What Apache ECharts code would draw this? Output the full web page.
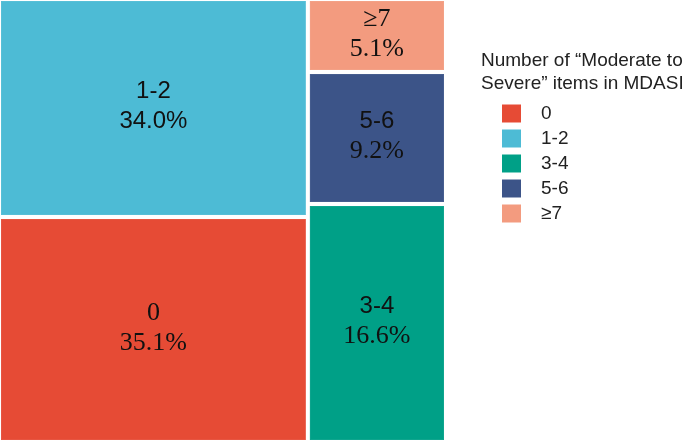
<!DOCTYPE html>
<html>
<head>
<meta charset="utf-8">
<script src="https://cdn.jsdelivr.net/npm/echarts@6/dist/echarts.min.js"></script>
<style>
html,body{margin:0;padding:0;background:#fff;}
#chart{width:685px;height:442px;}
</style>
</head>
<body>
<div id="chart"></div>
<script>
// ---- data ----
const categories = ['0', '1-2', '3-4', '5-6', '≥7'];
const percents = [35.1, 34.0, 16.6, 9.2, 5.1];
const leftColumn = ['1-2', '0'];
const rightColumn = ['≥7', '5-6', '3-4'];
const legendTitle = 'Number of \u201cModerate to\nSevere\u201d items in MDASI';

// ---- styles ----
const palette = ['#E64B35', '#4DBBD5', '#00A087', '#3C5488', '#F39B7F'];
const SANS = 'Liberation Sans, Arial, sans-serif';
const SERIF = 'Liberation Serif, Times New Roman, serif';
const nameFont = {'0': SERIF, '1-2': SANS, '3-4': SANS, '5-6': SANS, '≥7': SERIF};
const valueFont = {'0': SERIF, '1-2': SANS, '3-4': SERIF, '5-6': SERIF, '≥7': SERIF};
const LINE_H = 30;

function fontSizeFor(f) { return f === SERIF ? 26 : 24; }

function leaf(name, padMap) {
  const i = categories.indexOf(name);
  const label = {
    rich: {
      n: { fontFamily: nameFont[name], fontSize: fontSizeFor(nameFont[name]), color: '#111', lineHeight: LINE_H, align: 'center' },
      v: { fontFamily: valueFont[name], fontSize: fontSizeFor(valueFont[name]), color: '#111', lineHeight: LINE_H, align: 'center' }
    }
  };
  if (padMap && padMap[name]) label.padding = padMap[name];
  return {
    name: name,
    value: percents[i],
    itemStyle: { color: palette[i], borderColor: echarts.color.lift(palette[i], 0.06), borderWidth: 1 },
    label: label
  };
}

function group(name, members, padMap) {
  const children = members.map(m => leaf(m, padMap));
  return { name: name, value: children.reduce((s, c) => s + c.value, 0), children: children };
}

function buildData(padMap) {
  return [group('left', leftColumn, padMap), group('right', rightColumn, padMap)];
}

const chart = echarts.init(document.getElementById('chart'));
chart.setOption({
  animation: false,
  title: {
    text: legendTitle,
    left: 481, top: 49, padding: 0,
    textStyle: { fontFamily: SANS, fontSize: 19, fontWeight: 'normal', color: '#222', lineHeight: 23 }
  },
  legend: {
    orient: 'vertical',
    left: 502, top: 104, padding: 0,
    itemWidth: 19, itemHeight: 18, itemGap: 6,
    icon: 'rect',
    data: categories,
    textStyle: { fontFamily: SANS, fontSize: 19, color: '#222', lineHeight: 18, padding: [0, 0, 0, 15] }
  },
  series: [
    {
      type: 'treemap',
      left: 1, top: 1, width: 443, height: 439,
      roam: false,
      nodeClick: false,
      sort: false,
      squareRatio: 1,
      breadcrumb: { show: false },
      label: {
        show: true,
        position: ['50%', '50%'],
        align: 'center',
        verticalAlign: 'middle',
        formatter: p => '{n|' + p.name + '}\n{v|' + p.value.toFixed(1) + '%}'
      },
      upperLabel: { show: false },
      levels: [
        { itemStyle: { gapWidth: 4, borderWidth: 0 } },
        { itemStyle: { gapWidth: 4, borderWidth: 0 } },
        {}
      ],
      data: buildData(null)
    },
    {
      type: 'pie',
      silent: true,
      center: [-200, -200],
      radius: 1,
      label: { show: false },
      labelLine: { show: false },
      data: categories.map((c, i) => ({ name: c, value: percents[i], itemStyle: { color: palette[i] } }))
    }
  ]
});

// Treemap labels are laid out in a box as tall as the cell; centre them
// vertically using the cell heights computed by ECharts' own layout.
(function centreLabels() {
  const seriesModel = chart.getModel().getSeriesByIndex(0);
  const data = seriesModel.getData();
  const padMap = {};
  const textH = LINE_H * 2 + 2;
  for (let i = 0; i < data.count(); i++) {
    const name = data.getName(i);
    const layout = data.getItemLayout(i);
    if (!layout || categories.indexOf(name) < 0) continue;
    const h = layout.height - 2;
    const top = Math.max(Math.floor((h - textH) / 2), 0);
    const bottom = Math.max(Math.floor(h - textH - top) - 1, 0);
    padMap[name] = [top, 0, bottom, 0];
  }
  chart.setOption({ series: [{ data: buildData(padMap) }] });
})();
</script>
</body>
</html>
